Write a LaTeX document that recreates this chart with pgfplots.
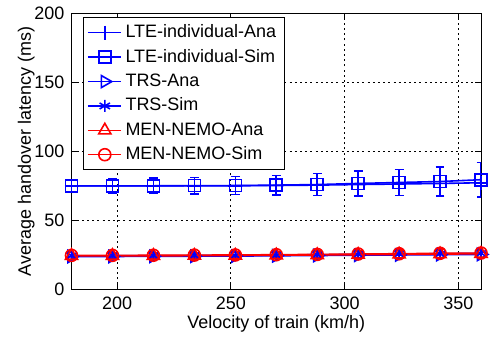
\documentclass[border=0pt]{standalone}
\usepackage{pgfplots}
\pgfplotsset{compat=1.18}
\usepackage{fontspec}
\setmainfont{Liberation Sans}
\pgfplotstableread{
x    la    ls    lse   ta    ts    tse  ma    ms    mse
180  75.0  75.0  4.5   24.0  24.5  1.5  24.5  24.8  1.5
198  75.0  75.1  5.0   24.0  24.5  1.6  24.5  24.8  1.6
216  75.0  75.1  5.5   24.1  24.6  1.8  24.5  24.9  1.8
234  75.0  75.2  6.0   24.2  24.7  1.9  24.6  25.0  1.9
252  75.1  75.3  6.5   24.3  24.8  2.0  24.7  25.1  2.0
270  75.3  75.6  7.0   24.5  25.0  2.2  24.9  25.3  2.2
288  75.6  76.0  8.0   24.7  25.3  2.4  25.1  25.5  2.4
306  76.0  76.8  9.0   24.9  25.5  2.6  25.3  25.8  2.6
324  76.4  77.5  9.5   25.1  25.8  2.8  25.5  26.0  2.8
342  76.8  78.2  10.5  25.3  26.0  3.0  25.7  26.3  3.0
360  77.3  79.5  12.5  25.5  26.3  3.2  26.0  26.5  3.2
}\data
\begin{document}
\begin{tikzpicture}
\begin{axis}[
  name=ax,
  scale only axis,
  width=205pt, height=138.5pt,
  xmin=180, xmax=360, ymin=0, ymax=200,
  xtick={200,250,300,350}, ytick={0,50,100,150,200},
  tick align=inside, major tick length=3pt,
  tick style={black, line width=0.4pt},
  axis line style={black, line width=0.5pt},
  grid=major,
  major grid style={black, line width=0.4pt, dash pattern=on 1pt off 1.6pt},
  /pgf/number format/assume math mode=true,
  tick label style={font=\fontsize{9}{10}\selectfont},
  label style={font=\fontsize{9}{10}\selectfont},
  xlabel={Velocity of train (km/h)},
  ylabel={Average handover latency (ms)},
  xlabel style={yshift=4pt},
  ylabel style={yshift=-7pt},
  legend style={font=\fontsize{9}{11}\selectfont, at={(0.027,0.985)}, anchor=north west,
    draw=black, line width=0.4pt, fill=white, cells={anchor=west},
    row sep=0.3pt, inner xsep=2pt, inner ysep=1.5pt},
  legend image code/.code={\draw[mark repeat=2,mark phase=2] plot coordinates {(0cm,0cm) (0.3cm,0cm) (0.58cm,0cm)};},
  every axis plot/.append style={line width=0.8pt},
  error bars/error bar style={line width=0.8pt},
  error bars/error mark options={rotate=90, mark size=2.2pt, line width=0.8pt},
]
\addplot[blue, mark=+, mark size=3.5pt] table[x=x, y=la] {\data};
\addlegendentry{LTE-individual-Ana}
\addplot[blue, mark=square, mark size=3pt,
  error bars/.cd, y dir=both, y explicit] table[x=x, y=ls, y error=lse] {\data};
\addlegendentry{LTE-individual-Sim}
\addplot[blue, mark=triangle, mark size=3.5pt, mark options={rotate=-90}] table[x=x, y=ta] {\data};
\addlegendentry{TRS-Ana}
\addplot[blue, mark=asterisk, mark size=3pt,
  error bars/.cd, y dir=both, y explicit] table[x=x, y=ts, y error=tse] {\data};
\addlegendentry{TRS-Sim}
\addplot[red, mark=triangle, mark size=3.5pt] table[x=x, y=ma] {\data};
\addlegendentry{MEN-NEMO-Ana}
\addplot[red, mark=o, mark size=3pt,
  error bars/.cd, y dir=both, y explicit] table[x=x, y=ms, y error=mse] {\data};
\addlegendentry{MEN-NEMO-Sim}
\end{axis}
\path ([xshift=-35.8pt, yshift=-24pt]ax.south west) rectangle ([xshift=4.5pt, yshift=6pt]ax.north east);
\end{tikzpicture}
\end{document}
